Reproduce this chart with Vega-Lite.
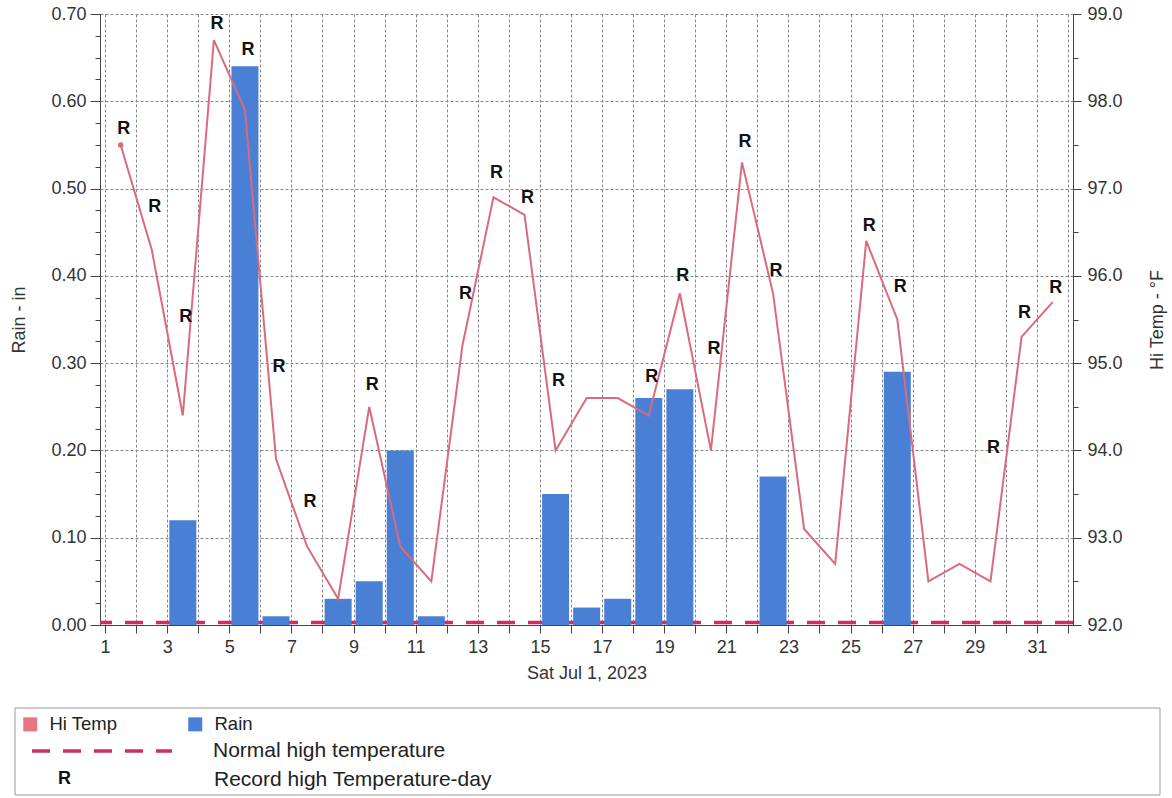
{
  "$schema": "https://vega.github.io/schema/vega-lite/v6.json",
  "width": 973,
  "height": 611,
  "autosize": "none",
  "padding": {"left": 100, "top": 14, "right": 99, "bottom": 173},
  "background": "white",
  "config": {
    "font": "Liberation Sans",
    "view": {"stroke": null},
    "axis": {
      "labelFontSize": 18,
      "titleFontSize": 18,
      "titleFontWeight": "normal",
      "labelColor": "#333",
      "titleColor": "#333",
      "domainColor": "#444",
      "tickColor": "#444"
    }
  },
  "data": {
    "values": [
      {"day": 1, "rain": 0, "temp": 97.5, "normal": 92.03, "rec": 97.68},
      {"day": 2, "rain": 0, "temp": 96.3, "normal": 92.03, "rec": 96.79},
      {"day": 3, "rain": 0.12, "temp": 94.4, "normal": 92.03, "rec": 95.53},
      {"day": 4, "rain": 0, "temp": 98.7, "normal": 92.03, "rec": 98.88},
      {"day": 5, "rain": 0.64, "temp": 97.9, "normal": 92.03, "rec": 98.59},
      {"day": 6, "rain": 0.01, "temp": 93.9, "normal": 92.03, "rec": 94.96},
      {"day": 7, "rain": 0, "temp": 92.9, "normal": 92.03, "rec": 93.41},
      {"day": 8, "rain": 0.03, "temp": 92.3, "normal": 92.03},
      {"day": 9, "rain": 0.05, "temp": 94.5, "normal": 92.03, "rec": 94.75},
      {"day": 10, "rain": 0.2, "temp": 92.9, "normal": 92.03},
      {"day": 11, "rain": 0.01, "temp": 92.5, "normal": 92.03},
      {"day": 12, "rain": 0, "temp": 95.2, "normal": 92.03, "rec": 95.79},
      {"day": 13, "rain": 0, "temp": 96.9, "normal": 92.03, "rec": 97.18},
      {"day": 14, "rain": 0, "temp": 96.7, "normal": 92.03, "rec": 96.89},
      {"day": 15, "rain": 0.15, "temp": 94.0, "normal": 92.03, "rec": 94.8},
      {"day": 16, "rain": 0.02, "temp": 94.6, "normal": 92.03},
      {"day": 17, "rain": 0.03, "temp": 94.6, "normal": 92.03},
      {"day": 18, "rain": 0.26, "temp": 94.4, "normal": 92.03, "rec": 94.84},
      {"day": 19, "rain": 0.27, "temp": 95.8, "normal": 92.03, "rec": 96.0},
      {"day": 20, "rain": 0, "temp": 94.0, "normal": 92.03, "rec": 95.16},
      {"day": 21, "rain": 0, "temp": 97.3, "normal": 92.03, "rec": 97.53},
      {"day": 22, "rain": 0.17, "temp": 95.8, "normal": 92.03, "rec": 96.06},
      {"day": 23, "rain": 0, "temp": 93.1, "normal": 92.03},
      {"day": 24, "rain": 0, "temp": 92.7, "normal": 92.03},
      {"day": 25, "rain": 0, "temp": 96.4, "normal": 92.03, "rec": 96.57},
      {"day": 26, "rain": 0.29, "temp": 95.5, "normal": 92.03, "rec": 95.87},
      {"day": 27, "rain": 0, "temp": 92.5, "normal": 92.03},
      {"day": 28, "rain": 0, "temp": 92.7, "normal": 92.03},
      {"day": 29, "rain": 0, "temp": 92.5, "normal": 92.03, "rec": 94.03},
      {"day": 30, "rain": 0, "temp": 95.3, "normal": 92.03, "rec": 95.57},
      {"day": 31, "rain": 0, "temp": 95.7, "normal": 92.03, "rec": 95.86}
    ]
  },
  "layer": [
    {
      "mark": {"type": "rule", "strokeWidth": 3.5, "color": "#d02c60"},
      "encoding": {
        "y": {"aggregate": "mean", "field": "normal", "type": "quantitative", "scale": {"domain": [92, 99], "nice": false, "zero": false}, "axis": null},
        "strokeDash": {
          "datum": "Normal high temperature",
          "type": "nominal",
          "scale": {"domain": ["Normal high temperature"], "range": [[18, 13]]},
          "legend": {
            "orient": "none", "legendX": -70, "legendY": 665, "title": null,
            "symbolType": "stroke", "symbolSize": 19600, "symbolStrokeWidth": 3.5,
            "symbolStrokeColor": "#d02c60", "labelFontSize": 21, "labelOffset": 39,
            "labelLimit": 600, "labelColor": "#222", "zindex": 1
          }
        }
      }
    },
    {
      "mark": {"type": "bar", "width": 27, "xOffset": 15.69},
      "encoding": {
        "x": {
          "field": "day", "type": "quantitative",
          "scale": {"domain": [1, 32], "nice": false, "zero": false},
          "axis": {
            "title": "Sat Jul 1, 2023",
            "values": [1,2,3,4,5,6,7,8,9,10,11,12,13,14,15,16,17,18,19,20,21,22,23,24,25,26,27,28,29,30,31,32],
            "labelExpr": "datum.value % 2 == 1 ? datum.label : ''",
            "tickSize": 8, "labelPadding": 5, "titlePadding": 8,
            "grid": true, "gridDash": [3, 2], "gridColor": "#888"
          }
        },
        "y": {
          "field": "rain", "type": "quantitative",
          "scale": {"domain": [0, 0.7], "nice": false},
          "axis": {
            "orient": "left",
            "title": "Rain - in",
            "values": [0,0.025,0.05,0.075,0.1,0.125,0.15,0.175,0.2,0.225,0.25,0.275,0.3,0.325,0.35,0.375,0.4,0.425,0.45,0.475,0.5,0.525,0.55,0.575,0.6,0.625,0.65,0.675,0.7],
            "labelExpr": "abs(datum.value*10 - round(datum.value*10)) < 0.001 ? format(datum.value, '.2f') : ''",
            "tickSize": {"condition": {"test": "abs(datum.value*10 - round(datum.value*10)) < 0.001", "value": 10}, "value": 5},
            "labelPadding": 4, "titlePadding": 22,
            "grid": true, "gridDash": [3, 2], "gridColor": "#888",
            "gridOpacity": {"condition": {"test": "abs(datum.value*10 - round(datum.value*10)) < 0.001", "value": 1}, "value": 0}
          }
        },
        "fill": {
          "datum": "Rain",
          "type": "nominal",
          "scale": {"domain": ["Hi Temp", "Rain"], "range": ["#e57680", "#4a7fd6"]},
          "legend": {
            "orient": "none", "legendX": -79, "legendY": 701, "direction": "horizontal",
            "title": null, "symbolType": "square", "symbolSize": 196, "symbolStrokeWidth": 0,
            "labelFontSize": 18.5, "labelOffset": 10, "columnPadding": 68, "labelColor": "#222",
            "labelLimit": 400, "zindex": 1
          }
        }
      }
    },
    {
      "encoding": {
        "x": {
          "field": "day", "type": "quantitative",
          "scale": {"domain": [1, 32], "nice": false, "zero": false},
          "axis": {
            "title": "Sat Jul 1, 2023",
            "values": [1,2,3,4,5,6,7,8,9,10,11,12,13,14,15,16,17,18,19,20,21,22,23,24,25,26,27,28,29,30,31,32],
            "labelExpr": "datum.value % 2 == 1 ? datum.label : ''",
            "tickSize": 8, "labelPadding": 5, "titlePadding": 8,
            "grid": true, "gridDash": [3, 2], "gridColor": "#888"
          }
        }
      },
      "layer": [
        {
          "mark": {"type": "line", "color": "#d96b7c", "strokeWidth": 2, "xOffset": 15.69},
          "encoding": {
            "y": {
              "field": "temp", "type": "quantitative",
              "scale": {"domain": [92, 99], "nice": false, "zero": false},
              "axis": {
                "orient": "right",
                "title": "Hi Temp - °F",
                "titleAngle": -90,
                "values": [92,92.25,92.5,92.75,93,93.25,93.5,93.75,94,94.25,94.5,94.75,95,95.25,95.5,95.75,96,96.25,96.5,96.75,97,97.25,97.5,97.75,98,98.25,98.5,98.75,99],
                "labelExpr": "abs(datum.value - round(datum.value)) < 0.001 ? format(datum.value, '.1f') : ''",
                "tickSize": {"condition": {"test": "abs(datum.value - round(datum.value)) < 0.001", "value": 8}, "value": 5},
                "labelPadding": 6, "titlePadding": 44, "grid": false
              }
            }
          }
        },
        {
          "transform": [{"filter": "datum.day == 1"}],
          "mark": {"type": "point", "filled": true, "color": "#d96b7c", "size": 30, "opacity": 1, "xOffset": 15.69},
          "encoding": {
            "y": {"field": "temp", "type": "quantitative", "title": "Hi Temp - °F"}
          }
        },
        {
          "transform": [{"filter": "isValid(datum.rec)"}],
          "mark": {"type": "text", "text": "R", "fontSize": 18, "fontWeight": "bold", "color": "#111", "baseline": "middle", "align": "center", "xOffset": 15.69, "dx": 3, "strokeWidth": 0},
          "encoding": {
            "y": {"field": "rec", "type": "quantitative", "title": "Hi Temp - °F"},
            "opacity": {
              "datum": "Record high Temperature-day",
              "type": "nominal",
              "scale": {"domain": ["Record high Temperature-day"], "range": [1]},
              "legend": {
                "orient": "none", "legendX": -42, "legendY": 755,
                "title": "R", "titleOrient": "left", "titleFontSize": 18, "titleFontWeight": "bold",
                "titleColor": "#111", "titlePadding": 122,
                "symbolSize": 0, "symbolOpacity": 0, "symbolStrokeWidth": 0,
                "labelFontSize": 21, "labelOffset": 0, "labelColor": "#222", "labelLimit": 600, "zindex": 1
              }
            },
            "stroke": {
              "field": "temp", "type": "quantitative",
              "scale": {"range": ["#ffffff", "#ffffff"]},
              "legend": {
                "orient": "none", "legendX": -85, "legendY": 694, "direction": "horizontal",
                "title": null, "labelExpr": "''", "labelOpacity": 0, "labelFontSize": 1,
                "gradientLength": 1145, "gradientThickness": 87,
                "gradientStrokeColor": "#999", "gradientStrokeWidth": 1, "zindex": 0
              }
            }
          }
        }
      ]
    }
  ],
  "resolve": {"scale": {"y": "independent"}}
}
